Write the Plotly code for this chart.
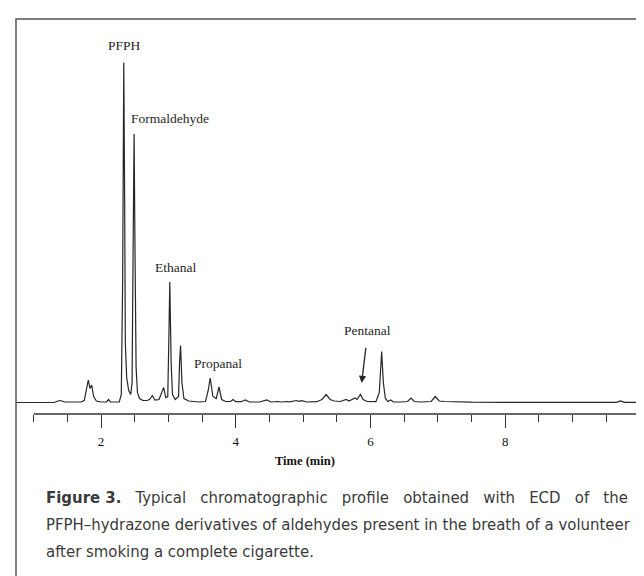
import plotly.graph_objects as go

# ---- data (time in min, detector signal in arbitrary units) ----
time_min = [0.74, 1.30, 1.36, 1.40, 1.46, 1.55, 1.70, 1.75, 1.79, 1.81, 1.835, 1.86, 1.89, 1.93,
            2.00, 2.08, 2.11, 2.14, 2.27, 2.30, 2.32, 2.337, 2.35, 2.36, 2.38, 2.41, 2.44, 2.46,
            2.475, 2.49, 2.505, 2.52, 2.54, 2.57, 2.62, 2.68, 2.72, 2.76, 2.80, 2.86, 2.90, 2.93,
            2.96, 2.99, 3.005, 3.02, 3.04, 3.06, 3.10, 3.15, 3.165, 3.18, 3.20, 3.23, 3.30, 3.45,
            3.55, 3.59, 3.62, 3.66, 3.71, 3.75, 3.79, 3.85, 3.92, 3.96, 4.00, 4.08, 4.14, 4.20,
            4.35, 4.46, 4.52, 4.62, 4.68, 4.75, 4.80, 4.90, 4.94, 4.98, 5.05, 5.20, 5.28, 5.34,
            5.40, 5.46, 5.55, 5.60, 5.64, 5.68, 5.73, 5.77, 5.80, 5.85, 5.89, 5.95, 6.08, 6.13,
            6.165, 6.19, 6.22, 6.26, 6.30, 6.34, 6.45, 6.55, 6.60, 6.65, 6.75, 6.90, 6.96, 7.02,
            7.10, 7.20, 7.30, 7.50, 8.00, 8.40, 8.45, 9.65, 9.71, 9.77, 10.0]
signal = [0, 0, 1.5, 2, 0.5, 0.5, 0.5, 2, 18, 22.5, 14, 17.5, 6, 1.5,
          0.5, 0.5, 3, 0.5, 0.5, 8, 120, 340, 200, 60, 25, 12, 8, 20,
          150, 268.5, 140, 35, 10, 4, 2, 2, 3, 7, 2.5, 3, 10, 15,
          5, 6, 60, 120.5, 40, 8, 3, 6, 40, 57, 20, 4, 1.5, 0.5,
          1, 12, 24.5, 6, 4, 15.5, 3, 1, 1, 3, 0.8, 0.8, 2.5, 0.5,
          0.5, 2.5, 0.5, 1, 0.5, 1, 0.6, 2, 1.2, 1.8, 0.5, 0.8, 3, 8,
          3, 1.5, 1, 2, 3, 1.5, 3, 4.5, 3, 8, 3, 1, 0.8, 10,
          51, 20, 4, 1, 2.5, 0.5, 0.5, 1, 4.5, 1, 0.5, 1, 6, 1.5,
          1, 0.8, 0.5, 0.3, 0.2, 0.5, 0.2, 0.2, 1.5, 0.2, 0]

peak_names = ["PFPH", "Formaldehyde", "Ethanal", "Propanal", "Pentanal"]
label_time = [2.342, 2.41, 3.107, 3.736, 5.95]
label_signal = [357.5, 284.5, 135.5, 39.2, 71.8]
label_anchor = ["center", "left", "center", "center", "center"]

arrow_head = (5.868, 19.5)
arrow_tail = (5.933, 56.2)

major_ticks = [2, 4, 6, 8, 10]
major_text = ["2", "4", "6", "8", ""]
minor_ticks = [1, 1.5, 2.5, 3, 3.5, 4.5, 5, 5.5, 6.5, 7, 7.5, 8.5, 9, 9.5]
x_title = "Time (min)"

caption_lines = [
    "<b>Figure\u00a03.</b> Typical chromatographic profile obtained with ECD of the",
    "PFPH\u2013hydrazone derivatives of aldehydes present in the breath of a volunteer",
    "after smoking a complete cigarette.",
]

# ---- layout geometry (pixels) ----
W, H = 644, 576
L, R, T, B = 8, 12, 20, 170
PW, PH = W - L - R, H - T - B


def px_x(x):
    return (x - L) / PW


def px_y(y):
    return (H - B - y) / PH


def justify(line):
    # widen inter-word gaps to emulate the justified first caption line
    return line.replace(" ", " \u00a0\u00a0")


serif = "Liberation Serif, Times New Roman, serif"
cap_font = "DejaVu Sans Condensed, Roboto, sans-serif"
ink = "#262626"

fig = go.Figure()
fig.add_trace(go.Scatter(x=time_min, y=signal, mode="lines",
                         line=dict(color="#262626", width=1.2),
                         hoverinfo="skip", showlegend=False))

for name, t, s, a in zip(peak_names, label_time, label_signal, label_anchor):
    fig.add_annotation(x=t, y=s, text=name, showarrow=False, xanchor=a, yanchor="middle",
                       font=dict(family=serif, size=13.5, color=ink))

fig.add_annotation(x=arrow_head[0], y=arrow_head[1], ax=arrow_tail[0], ay=arrow_tail[1],
                   axref="x", ayref="y", text="", showarrow=True, arrowhead=2,
                   arrowsize=1.1, arrowwidth=1.3, arrowcolor=ink, standoff=0)

fig.add_annotation(x=5.02, y=px_y(453), yref="paper", text="<b>" + x_title + "</b>",
                   showarrow=False, xanchor="center", yanchor="middle",
                   font=dict(family=serif, size=12.5, color="#111"))

cap_y = [490, 516.5, 543]
for i, (line, yy) in enumerate(zip(caption_lines, cap_y)):
    txt = justify(line) if i == 0 else line
    fig.add_annotation(x=px_x(36), y=px_y(yy), xref="paper", yref="paper", text=txt,
                       showarrow=False, xanchor="left", yanchor="middle",
                       font=dict(family=cap_font, size=16.6, color="#3a3a3a"))

# axis line (starts at 1 min) and outer frame
fig.add_shape(type="line", x0=1, x1=10, xref="x", y0=0, y1=0, yref="paper",
              line=dict(color="#333", width=1.4))
fig.add_shape(type="rect", xref="paper", yref="paper",
              x0=px_x(8), x1=px_x(639), y0=px_y(574), y1=px_y(11),
              line=dict(color="#555", width=1.5))

fig.update_layout(
    width=W, height=H, margin=dict(l=L, r=R, t=T, b=B),
    paper_bgcolor="white", plot_bgcolor="white",
    xaxis=dict(range=[0.737, 10.0], showgrid=False, zeroline=False, showline=False,
               tickmode="array", tickvals=major_ticks, ticktext=major_text,
               ticks="outside", ticklen=13, tickwidth=1.2, tickcolor="#333",
               ticklabelstandoff=2,
               tickfont=dict(family=serif, size=13, color="#111"),
               minor=dict(tickmode="array", tickvals=minor_ticks, ticks="outside",
                          ticklen=7, tickwidth=1.1, tickcolor="#333")),
    yaxis=dict(range=[-11.5, 374.5], visible=False),
)

fig.write_html("out.html")
